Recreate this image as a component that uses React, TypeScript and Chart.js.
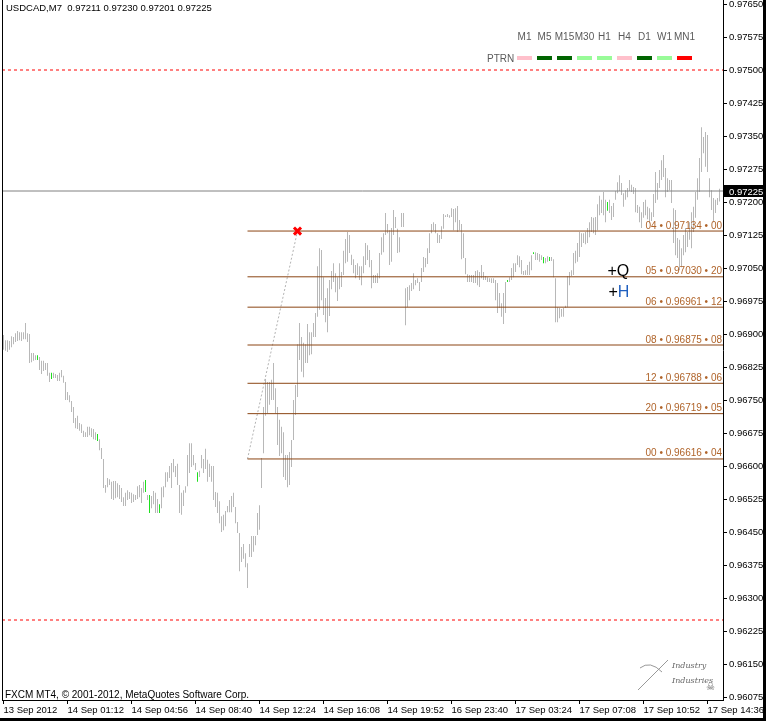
import React, { useEffect, useRef } from 'react';
import { Chart, registerables } from 'chart.js';

Chart.register(...registerables);

const symbolHeader = 'USDCAD,M7  0.97211 0.97230 0.97201 0.97225';
const copyrightText = 'FXCM MT4, \u00A9 2001-2012, MetaQuotes Software Corp.';

const timeLabels = [
  '13 Sep 2012', '14 Sep 01:12', '14 Sep 04:56', '14 Sep 08:40', '14 Sep 12:24', '14 Sep 16:08',
  '14 Sep 19:52', '16 Sep 23:40', '17 Sep 03:24', '17 Sep 07:08', '17 Sep 10:52', '17 Sep 14:36',
];
const timeLabelStep = 32;

const priceTicks = [
  0.96075, 0.9615, 0.96225, 0.963, 0.96375, 0.9645, 0.96525, 0.966, 0.96675, 0.9675, 0.96825,
  0.969, 0.96975, 0.9705, 0.97125, 0.972, 0.97275, 0.9735, 0.97425, 0.975, 0.97575, 0.9765,
];
const priceAxisMin = 0.960682;
const priceAxisMax = 0.976591;

const highs = [
  0.96898, 0.96886, 0.96886, 0.96884, 0.96895, 0.96893, 0.96902, 0.96907, 0.96904, 0.96904,
  0.96904, 0.96925, 0.96902, 0.96900, 0.96857, 0.96857, 0.96852, 0.96852, 0.96848, 0.96839,
  0.96839, 0.96834, 0.96834, 0.96812, 0.96812, 0.96812, 0.96809, 0.96807, 0.96812, 0.96818,
  0.96805, 0.96791, 0.96768, 0.96761, 0.96748, 0.96734, 0.96709, 0.96714, 0.96698, 0.96695,
  0.96680, 0.96677, 0.96689, 0.96689, 0.96686, 0.96684, 0.96677, 0.96673, 0.96661, 0.96641,
  0.96616, 0.96557, 0.96573, 0.96570, 0.96564, 0.96566, 0.96566, 0.96561, 0.96557, 0.96550,
  0.96529, 0.96539, 0.96545, 0.96541, 0.96539, 0.96536, 0.96534, 0.96554, 0.96557, 0.96550,
  0.96564, 0.96568, 0.96534, 0.96534, 0.96532, 0.96543, 0.96539, 0.96525, 0.96513, 0.96552,
  0.96554, 0.96586, 0.96586, 0.96600, 0.96607, 0.96616, 0.96600, 0.96605, 0.96557, 0.96539,
  0.96545, 0.96554, 0.96625, 0.96652, 0.96652, 0.96625, 0.96607, 0.96586, 0.96589, 0.96625,
  0.96616, 0.96639, 0.96614, 0.96605, 0.96600, 0.96600, 0.96541, 0.96539, 0.96520, 0.96486,
  0.96489, 0.96498, 0.96509, 0.96523, 0.96532, 0.96539, 0.96507, 0.96473, 0.96448, 0.96416,
  0.96423, 0.96402, 0.96379, 0.96423, 0.96441, 0.96441, 0.96441, 0.96493, 0.96511, 0.96618,
  0.96734, 0.96798, 0.96791, 0.96791, 0.96796, 0.96834, 0.96777, 0.96734, 0.96705, 0.96689,
  0.96677, 0.96625, 0.96625, 0.96632, 0.96659, 0.96750, 0.96784, 0.96877, 0.96925, 0.96893,
  0.96880, 0.96877, 0.96923, 0.96904, 0.96904, 0.96925, 0.96948, 0.97054, 0.97095, 0.97091,
  0.97029, 0.96982, 0.97004, 0.97023, 0.97043, 0.97061, 0.97038, 0.97029, 0.97061, 0.97041,
  0.97089, 0.97116, 0.97132, 0.97125, 0.97080, 0.97070, 0.97057, 0.97061, 0.97054, 0.97054,
  0.97077, 0.97107, 0.97102, 0.97091, 0.97068, 0.97034, 0.97034, 0.97038, 0.97084, 0.97120,
  0.97129, 0.97175, 0.97150, 0.97136, 0.97141, 0.97182, 0.97166, 0.97139, 0.97120, 0.97175,
  0.97175, 0.97004, 0.97007, 0.97011, 0.97016, 0.97038, 0.97023, 0.97027, 0.97018, 0.97050,
  0.97075, 0.97073, 0.97095, 0.97129, 0.97150, 0.97154, 0.97150, 0.97129, 0.97125, 0.97145,
  0.97173, 0.97170, 0.97173, 0.97170, 0.97186, 0.97184, 0.97186, 0.97191, 0.97159, 0.97150,
  0.97129, 0.97073, 0.97036, 0.97034, 0.97034, 0.97034, 0.97043, 0.97045, 0.97041, 0.97057,
  0.97041, 0.97032, 0.97029, 0.97027, 0.97027, 0.97027, 0.97023, 0.97016, 0.96993, 0.96970,
  0.96993, 0.97018, 0.97023, 0.97029, 0.97050, 0.97061, 0.97061, 0.97079, 0.97077, 0.97068,
  0.97043, 0.97045, 0.97057, 0.97064, 0.97079, 0.97086, 0.97086, 0.97084, 0.97082, 0.97079,
  0.97075, 0.97073, 0.97077, 0.97075, 0.97075, 0.97070, 0.97027, 0.96961, 0.96959, 0.96957,
  0.96959, 0.96964, 0.97032, 0.97041, 0.97045, 0.97084, 0.97089, 0.97107, 0.97132, 0.97129,
  0.97129, 0.97132, 0.97141, 0.97154, 0.97166, 0.97164, 0.97166, 0.97195, 0.97214, 0.97205,
  0.97223, 0.97205, 0.97200, 0.97205, 0.97191, 0.97198, 0.97225, 0.97245, 0.97261, 0.97243,
  0.97220, 0.97227, 0.97232, 0.97250, 0.97239, 0.97234, 0.97232, 0.97193, 0.97189, 0.97177,
  0.97200, 0.97205, 0.97189, 0.97186, 0.97177, 0.97218, 0.97268, 0.97243, 0.97273, 0.97295,
  0.97307, 0.97277, 0.97254, 0.97250, 0.97250, 0.97186, 0.97182, 0.97118, 0.97114, 0.97095,
  0.97125, 0.97141, 0.97132, 0.97154, 0.97177, 0.97189, 0.97223, 0.97254, 0.97300, 0.97370,
  0.97348, 0.97359, 0.97352, 0.97254, 0.97227, 0.97209, 0.97205, 0.97209, 0.97230,
];

const lows = [
  0.96864, 0.96862, 0.96859, 0.96864, 0.96870, 0.96877, 0.96882, 0.96884, 0.96886, 0.96884,
  0.96888, 0.96888, 0.96882, 0.96834, 0.96836, 0.96839, 0.96841, 0.96841, 0.96818, 0.96809,
  0.96816, 0.96818, 0.96805, 0.96791, 0.96798, 0.96800, 0.96800, 0.96793, 0.96793, 0.96802,
  0.96789, 0.96750, 0.96750, 0.96745, 0.96723, 0.96698, 0.96686, 0.96684, 0.96680, 0.96675,
  0.96666, 0.96666, 0.96666, 0.96670, 0.96666, 0.96661, 0.96659, 0.96657, 0.96636, 0.96616,
  0.96550, 0.96539, 0.96552, 0.96557, 0.96525, 0.96523, 0.96527, 0.96529, 0.96525, 0.96518,
  0.96509, 0.96509, 0.96523, 0.96525, 0.96516, 0.96518, 0.96523, 0.96525, 0.96529, 0.96516,
  0.96539, 0.96541, 0.96523, 0.96493, 0.96504, 0.96513, 0.96493, 0.96493, 0.96493, 0.96504,
  0.96529, 0.96552, 0.96564, 0.96573, 0.96550, 0.96586, 0.96575, 0.96557, 0.96493, 0.96489,
  0.96509, 0.96539, 0.96554, 0.96584, 0.96598, 0.96602, 0.96591, 0.96564, 0.96575, 0.96595,
  0.96584, 0.96593, 0.96564, 0.96575, 0.96564, 0.96523, 0.96507, 0.96493, 0.96470, 0.96450,
  0.96454, 0.96463, 0.96495, 0.96495, 0.96495, 0.96507, 0.96470, 0.96448, 0.96361, 0.96382,
  0.96389, 0.96370, 0.96323, 0.96393, 0.96393, 0.96405, 0.96420, 0.96443, 0.96455, 0.96550,
  0.96629, 0.96714, 0.96720, 0.96739, 0.96750, 0.96750, 0.96720, 0.96648, 0.96623, 0.96629,
  0.96575, 0.96568, 0.96552, 0.96557, 0.96598, 0.96659, 0.96716, 0.96757, 0.96841, 0.96814,
  0.96802, 0.96834, 0.96834, 0.96852, 0.96854, 0.96893, 0.96893, 0.96939, 0.96955, 0.96977,
  0.96943, 0.96927, 0.96904, 0.96941, 0.97002, 0.97018, 0.96995, 0.96975, 0.97002, 0.97007,
  0.97034, 0.97061, 0.97064, 0.97084, 0.97057, 0.97038, 0.97027, 0.97034, 0.97023, 0.97011,
  0.97038, 0.97057, 0.97068, 0.97052, 0.97004, 0.97016, 0.97016, 0.97016, 0.97027, 0.97080,
  0.97086, 0.97125, 0.97129, 0.97057, 0.97064, 0.97125, 0.97141, 0.97084, 0.97086, 0.97143,
  0.97143, 0.96920, 0.96961, 0.96977, 0.96998, 0.97002, 0.97011, 0.97016, 0.96998, 0.97018,
  0.97041, 0.97052, 0.97059, 0.97084, 0.97129, 0.97136, 0.97129, 0.97107, 0.97107, 0.97116,
  0.97139, 0.97166, 0.97166, 0.97164, 0.97166, 0.97136, 0.97154, 0.97132, 0.97136, 0.97070,
  0.97073, 0.97036, 0.97018, 0.97018, 0.97018, 0.97016, 0.97016, 0.97011, 0.97007, 0.97027,
  0.97023, 0.97023, 0.97018, 0.97018, 0.97016, 0.97016, 0.96977, 0.96948, 0.96959, 0.96939,
  0.96923, 0.96948, 0.97018, 0.97018, 0.97023, 0.97029, 0.97041, 0.97057, 0.97052, 0.97036,
  0.97034, 0.97034, 0.97034, 0.97034, 0.97045, 0.97082, 0.97068, 0.97068, 0.97064, 0.97068,
  0.97061, 0.97061, 0.97064, 0.97066, 0.97066, 0.97029, 0.96927, 0.96927, 0.96936, 0.96939,
  0.96939, 0.96959, 0.96961, 0.97011, 0.97032, 0.97034, 0.97061, 0.97064, 0.97075, 0.97098,
  0.97107, 0.97104, 0.97107, 0.97120, 0.97132, 0.97129, 0.97125, 0.97136, 0.97170, 0.97175,
  0.97170, 0.97154, 0.97180, 0.97175, 0.97159, 0.97166, 0.97205, 0.97220, 0.97225, 0.97216,
  0.97189, 0.97205, 0.97211, 0.97225, 0.97223, 0.97218, 0.97177, 0.97175, 0.97154, 0.97141,
  0.97164, 0.97170, 0.97161, 0.97152, 0.97157, 0.97166, 0.97198, 0.97205, 0.97232, 0.97250,
  0.97257, 0.97211, 0.97223, 0.97227, 0.97198, 0.97107, 0.97079, 0.97073, 0.97045, 0.97052,
  0.97079, 0.97086, 0.97098, 0.97114, 0.97095, 0.97132, 0.97164, 0.97205, 0.97223, 0.97268,
  0.97311, 0.97280, 0.97268, 0.97211, 0.97182, 0.97154, 0.97175, 0.97193, 0.97201,
];

const greenBars = [17, 24, 47, 71, 73, 78, 97, 252, 265, 270, 273, 302];

const fibLevels = [0.97134, 0.9703, 0.96961, 0.96875, 0.96788, 0.96719, 0.96616];
const fibTags = [
  '04 \u2022 0.97134 \u2022 00',
  '05 \u2022 0.97030 \u2022 20',
  '06 \u2022 0.96961 \u2022 12',
  '08 \u2022 0.96875 \u2022 08',
  '12 \u2022 0.96788 \u2022 06',
  '20 \u2022 0.96719 \u2022 05',
  '00 \u2022 0.96616 \u2022 04',
];
const fibStartBar = 122;
const fibPeakBar = 147;

const redLevels = [0.975, 0.9625];
const lastPrice = 0.97225;

const tfNames = ['M1', 'M5', 'M15', 'M30', 'H1', 'H4', 'D1', 'W1', 'MN1'];
const tfColors = ['#ffc0cb', '#006400', '#006400', '#98fb98', '#98fb98', '#ffc0cb', '#006400', '#98fb98', '#ff0000'];

const markBar = 302;

const FONT = '"Liberation Sans", Arial, sans-serif';

export default function App() {
  const ref = useRef<HTMLCanvasElement>(null);

  useEffect(() => {
    document.body.style.margin = '0';
    const canvas = ref.current;
    if (!canvas) return;

    const n = highs.length;
    const xMin = -0.75;
    const xMax = n + 0.75;

    const barData = highs.map((h, i) => ({ x: i, y: [lows[i], h] }));
    const barColors = highs.map((_, i) => (greenBars.includes(i) ? '#1ee01e' : '#b8b8b8'));

    const hLine = (price: number, color: string, dash: number[], from: number) => ({
      type: 'line' as const,
      data: [{ x: from, y: price }, { x: xMax, y: price }],
      borderColor: color,
      borderWidth: 1,
      borderDash: dash,
      pointRadius: 0,
      tension: 0,
      order: 1,
    });

    const datasets: any[] = [
      {
        type: 'bar',
        data: barData,
        backgroundColor: barColors,
        borderWidth: 0,
        barThickness: 1,
        inflateAmount: 0,
        borderSkipped: false,
        order: 10,
      },
      ...redLevels.map((p) => hLine(p, '#ff0000', [3, 3], xMin)),
      hLine(lastPrice, '#808080', [], xMin),
      ...fibLevels.map((p) => hLine(p, '#8b4513', [], fibStartBar)),
      {
        type: 'line',
        data: [{ x: fibStartBar, y: fibLevels[6] }, { x: fibPeakBar, y: fibLevels[0] }],
        borderColor: '#b4b4b4',
        borderWidth: 1,
        borderDash: [2, 2],
        pointRadius: 0,
        order: 2,
      },
      {
        type: 'line',
        data: [{ x: fibPeakBar, y: fibLevels[0] }],
        showLine: false,
        pointStyle: 'crossRot',
        pointRadius: 5,
        pointBorderWidth: 3,
        pointBorderColor: '#ff0000',
        pointBackgroundColor: '#ff0000',
        order: 0,
      },
    ];

    const overlay = {
      id: 'mt4Overlay',
      beforeDraw(chart: any) {
        const c = chart.ctx;
        c.save();
        c.fillStyle = '#ffffff';
        c.fillRect(0, 0, chart.width, chart.height);
        c.restore();
      },
      afterDraw(chart: any) {
        const c: CanvasRenderingContext2D = chart.ctx;
        const ca = chart.chartArea;
        const xs = chart.scales.x;
        const ys = chart.scales.y;
        c.save();
        c.textBaseline = 'alphabetic';

        // header
        c.font = `9.5px ${FONT}`;
        c.fillStyle = '#000';
        c.textAlign = 'left';
        c.fillText(symbolHeader, 6, 11);

        // timeframe legend
        c.font = `10px ${FONT}`;
        tfNames.forEach((name, k) => {
          c.fillStyle = '#5a5a5a';
          c.textAlign = 'center';
          c.fillText(name, 524.5 + 20 * k, 40);
          c.fillStyle = tfColors[k];
          c.fillRect(517 + 20 * k, 56, 15, 4);
        });
        c.fillStyle = '#5a5a5a';
        c.textAlign = 'left';
        c.fillText('PTRN', 487, 62);

        // fib labels
        c.font = `10px ${FONT}`;
        c.fillStyle = '#b0642a';
        c.textAlign = 'right';
        fibLevels.forEach((p, k) => {
          const y = ys.getPixelForValue(p);
          c.fillText(fibTags[k], ca.right - 1, y - 2.5);
        });

        // +Q / +H marks
        c.font = `16px ${FONT}`;
        c.textAlign = 'left';
        const mx = xs.getPixelForValue(markBar);
        const yQ = ys.getPixelForValue(fibLevels[1]) - 1;
        c.fillStyle = '#000';
        c.fillText('+Q', mx, yQ);
        const yH = ys.getPixelForValue(fibLevels[2]) - 10;
        c.fillText('+', mx + 1, yH);
        const pw = c.measureText('+').width;
        c.fillStyle = '#1f5fbf';
        c.fillText('H', mx + 1 + pw, yH);

        // current price box
        const yp = ys.getPixelForValue(lastPrice);
        c.fillStyle = '#000';
        c.fillRect(ca.right + 1, Math.round(yp) - 6, 40, 12);
        c.fillStyle = '#fff';
        c.font = `9.5px ${FONT}`;
        c.fillText(lastPrice.toFixed(5), ca.right + 6, Math.round(yp) + 4);

        // copyright
        c.fillStyle = '#000';
        c.font = `10px ${FONT}`;
        c.fillText(copyrightText, 5, 698);

        // logo
        c.fillStyle = '#666';
        c.font = `italic 8px "DejaVu Serif", serif`;
        c.fillText('Industry', 672, 668);
        c.fillText('Industries', 672, 683);
        c.font = `10px "DejaVu Sans", sans-serif`;
        c.fillText('\u2620', 706, 690);
        c.strokeStyle = '#999';
        c.lineWidth = 1;
        c.beginPath();
        c.moveTo(638, 690);
        c.lineTo(652, 676);
        c.lineTo(668, 660);
        c.moveTo(640, 668);
        c.quadraticCurveTo(650, 660, 662, 672);
        c.stroke();

        // frame
        c.fillStyle = '#000';
        c.fillRect(Math.round(ca.left), 0, 1, Math.round(ca.bottom) + 1);
        c.fillRect(763, 0, 3, 721);
        c.fillRect(0, 718, 766, 3);
        c.restore();
      },
    };

    const tickFont = { family: FONT, size: 9.5 };

    const chart = new Chart(canvas, {
      type: 'bar',
      data: { datasets },
      options: {
        responsive: false,
        animation: false,
        devicePixelRatio: 1,
        events: [],
        layout: { autoPadding: false, padding: { left: 2, right: 0, top: 0, bottom: 0 } },
        plugins: { legend: { display: false }, tooltip: { enabled: false } },
        scales: {
          x: {
            type: 'linear',
            min: xMin,
            max: xMax,
            offset: false,
            grid: {
              display: true,
              offset: false,
              drawOnChartArea: false,
              drawTicks: true,
              tickLength: 4,
              color: '#000',
              lineWidth: 1,
            },
            border: { display: true, color: '#000', width: 1 },
            afterBuildTicks: (s: any) => {
              s.ticks = timeLabels.map((_, k) => ({ value: k * timeLabelStep }));
            },
            afterFit: (s: any) => {
              s.height = 21;
              s.paddingLeft = 0;
              s.paddingRight = 0;
            },
            ticks: {
              autoSkip: false,
              maxRotation: 0,
              minRotation: 0,
              align: 'start',
              padding: 1,
              color: '#000',
              font: tickFont,
              callback: (_v: any, idx: number) => timeLabels[idx] ?? '',
            },
          },
          y: {
            type: 'linear',
            position: 'right',
            min: priceAxisMin,
            max: priceAxisMax,
            beginAtZero: false,
            grid: {
              display: true,
              drawOnChartArea: false,
              drawTicks: true,
              tickLength: 4,
              color: '#000',
              lineWidth: 1,
            },
            border: { display: true, color: '#000', width: 1 },
            afterBuildTicks: (s: any) => {
              s.ticks = priceTicks.map((v) => ({ value: v }));
            },
            afterFit: (s: any) => {
              s.width = 43;
              s.paddingTop = 0;
              s.paddingBottom = 0;
            },
            ticks: {
              padding: 2,
              color: '#000',
              font: tickFont,
              callback: (v: any) => Number(v).toFixed(5),
            },
          },
        },
      } as any,
      plugins: [overlay],
    });

    return () => chart.destroy();
  }, []);

  return (
    <div style={{ width: 766, height: 721, overflow: 'hidden', background: '#fff' }}>
      <canvas ref={ref} width={766} height={721} style={{ display: 'block' }} />
    </div>
  );
}
